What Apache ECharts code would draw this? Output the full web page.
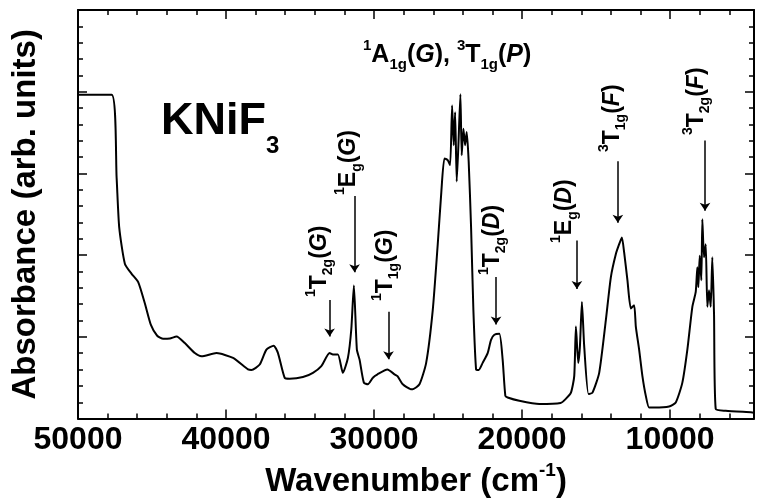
<!DOCTYPE html>
<html>
<head>
<meta charset="utf-8">
<script src="https://cdn.jsdelivr.net/npm/echarts@6.0.0/dist/echarts.min.js"></script>
<style>
  html, body { margin: 0; padding: 0; background: #fff; }
  #chart { width: 757px; height: 503px; }
</style>
</head>
<body>
<div id="chart"></div>
<script>
const wavenumber = [
  50000, 47727, 47390, 47214, 46830, 46378, 45933, 45481, 45076, 44651,
  44246, 43795, 43343, 42783, 42108, 41656, 40645, 39525, 38513, 38284,
  37724, 37272, 36780, 36490, 36038, 35701, 34803, 34129, 33562, 33003,
  32780, 32443, 32105, 31768, 31539, 31363, 31161, 30979, 30689, 30419,
  30082, 29765, 29100, 28618, 28416, 28058, 27519, 27384, 26932, 26480,
  26035, 25698, 25468, 25246, 25023, 24861, 24727, 24618, 24524, 24416,
  24302, 24167, 24079, 23964, 23850, 23742, 23607, 23445, 23290, 23108,
  22932, 22663, 22325, 22096, 21873, 21536, 21313, 21131, 20976, 20187,
  18838, 17401, 17064, 16700, 16477, 16363, 16208, 16093, 15958, 15803,
  15513, 15243, 14791, 14339, 14002, 13665, 13442, 13260, 13105, 12882,
  12653, 12430, 12316, 12093, 11871, 11641, 11419, 11081, 10070, 9618,
  9173, 8835, 8498, 8269, 8161, 8093, 7999, 7891, 7823, 7709,
  7594, 7486, 7372, 7257, 7149, 7034, 6920, 6245, 4451, 4333
];
const absorbance = [
  19.81, 19.81, 14.71, 11.68, 9.46, 8.86, 8.35, 7.04, 5.73, 5.07,
  4.88, 4.90, 5.02, 4.62, 4.01, 3.81, 4.01, 3.71, 3.01, 2.97,
  3.31, 4.22, 4.46, 4.01, 2.50, 2.44, 2.54, 2.80, 3.21, 4.01,
  3.92, 3.92, 2.80, 3.71, 5.45, 8.15, 4.22, 3.61, 2.20, 2.10,
  2.50, 2.71, 3.00, 2.71, 2.60, 2.10, 1.80, 1.80, 2.10, 3.41,
  6.64, 10.67, 13.70, 15.92, 15.82, 15.51, 19.15, 16.73, 18.75, 14.51,
  16.73, 19.85, 16.12, 17.74, 16.73, 17.54, 15.72, 11.68, 6.64, 3.01,
  2.97, 3.41, 4.01, 4.82, 5.13, 5.19, 3.61, 1.39, 1.29, 1.09,
  0.89, 0.95, 1.19, 1.59, 2.60, 5.63, 3.41, 4.42, 7.14, 4.42,
  1.50, 1.59, 2.80, 6.04, 8.66, 10.07, 10.67, 11.08, 10.17, 8.46,
  6.74, 6.94, 5.63, 4.22, 2.60, 1.39, 0.68, 0.68, 0.74, 0.99,
  2.20, 4.22, 6.84, 7.75, 9.26, 8.05, 9.97, 8.46, 12.19, 9.87,
  10.67, 6.84, 7.85, 6.84, 9.87, 6.43, 0.59, 0.48, 0.38, 0.36
];
const xTickLabels = [50000, 40000, 30000, 20000, 10000];

// transition arrows: position, arrow start, arrow tip
const arrowX = [33003, 31316, 29023, 21759, 16295, 13530, 7641];
const arrowFrom = [7.26, 13.62, 6.54, 8.66, 10.90, 15.74, 17.01];
const arrowTo = [5.02, 8.96, 3.63, 5.75, 7.93, 11.99, 12.71];

// rotated level labels ({s|..} superscript, {b|..} subscript, {i|..} italic)
const levelText = [
  '{s|1}{n|T}{b|2g}{n|(}{i|G}{n|)}',
  '{s|1}{n|E}{b|g}{n|(}{i|G}{n|)}',
  '{s|1}{n|T}{b|1g}{n|(}{i|G}{n|)}',
  '{s|1}{n|T}{b|2g}{n|(}{i|D}{n|)}',
  '{s|1}{n|E}{b|g}{n|(}{i|D}{n|)}',
  '{s|3}{n|T}{b|1g}{n|(}{i|F}{n|)}',
  '{s|3}{n|T}{b|2g}{n|(}{i|F}{n|)}'
];
const levelPos = [[320, 297], [349, 195], [386, 301], [493, 275], [565, 243], [613, 152], [697, 135]];

const FONT = '"Liberation Sans", Arial, sans-serif';

function richSet (size, small, lh) {
  const base = { fontFamily: FONT, fontWeight: 'bold', fill: '#000' };
  return {
    n: Object.assign({}, base, { fontSize: size, lineHeight: lh, verticalAlign: 'middle' }),
    i: Object.assign({}, base, { fontSize: size, lineHeight: lh, verticalAlign: 'middle', fontStyle: 'italic' }),
    s: Object.assign({}, base, { fontSize: small, lineHeight: small, verticalAlign: 'top' }),
    b: Object.assign({}, base, { fontSize: small, lineHeight: small, verticalAlign: 'bottom' })
  }
}

const chart = echarts.init(document.getElementById('chart'), null, { renderer: 'canvas' });

const tickStyle = { color: '#000', width: 1.5 };

function xAx (pos, showLabel) {
  return {
    type: 'value',
    position: pos,
    min: 4333,
    max: 50000,
    splitNumber: 5,
    inverse: true,
    axisLine: { show: true, onZero: false, lineStyle: { color: '#000', width: 2 } },
    axisTick: { show: true, inside: true, length: 9, lineStyle: tickStyle },
    minorTick: { show: true, splitNumber: 5, length: 5, lineStyle: tickStyle },
    splitLine: { show: false },
    axisLabel: {
      show: showLabel,
      margin: 6,
      color: '#000',
      fontSize: 32,
      fontWeight: 'bold',
      fontFamily: FONT,
      formatter: (v) => xTickLabels.indexOf(v) >= 0 ? String(v) : ''
    }
  }
}

function yAx (pos) {
  return {
    type: 'value',
    position: pos,
    min: 0,
    max: 25,
    interval: 5,
    axisLine: { show: true, onZero: false, lineStyle: { color: '#000', width: 2 } },
    axisTick: { show: true, inside: true, length: 9, lineStyle: tickStyle },
    minorTick: { show: true, splitNumber: 5, length: 5, lineStyle: tickStyle },
    splitLine: { show: false },
    axisLabel: { show: false }
  }
}

const xBottom = xAx('bottom', true);
xBottom.name = '{n|Wavenumber (cm}{s|-1}{n|)}';
xBottom.nameLocation = 'middle';
xBottom.nameGap = 40;
xBottom.nameTextStyle = { rich: richSet(33, 19, 40) };

const yLeft = yAx('left');
yLeft.name = 'Absorbance (arb. units)';
yLeft.nameLocation = 'middle';
yLeft.nameGap = 36;
yLeft.nameTextStyle = { color: '#000', fontSize: 33, fontWeight: 'bold', fontFamily: FONT };

const levelGraphics = levelText.map((t, i) => ({
  type: 'text',
  x: levelPos[i][0],
  y: levelPos[i][1],
  rotation: Math.PI / 2,
  style: { text: t, rich: richSet(23, 14, 31), align: 'left', verticalAlign: 'middle' }
}));

chart.setOption({
  animation: false,
  backgroundColor: '#fff',
  grid: { left: 78, right: 2, top: 10, bottom: 80, containLabel: false },
  xAxis: [xBottom, xAx('top', false)],
  yAxis: [yLeft, yAx('right')],
  graphic: levelGraphics.concat([
    {
      type: 'text',
      x: 363,
      y: 55,
      style: {
        text: '{s|1}{n|A}{b|1g}{n|(}{i|G}{n|), }{s|3}{n|T}{b|1g}{n|(}{i|P}{n|)}',
        rich: richSet(25, 15, 34),
        align: 'left',
        verticalAlign: 'middle'
      }
    },
    {
      type: 'text',
      x: 161,
      y: 122,
      style: {
        text: '{n|KNiF}{b|3}',
        rich: richSet(45, 24, 72),
        align: 'left',
        verticalAlign: 'middle'
      }
    }
  ]),
  series: [{
    type: 'line',
    xAxisIndex: 0,
    yAxisIndex: 0,
    data: wavenumber.map((w, i) => [w, absorbance[i]]),
    showSymbol: false,
    symbol: 'none',
    smooth: 0.2,
    lineStyle: { color: '#000', width: 2 },
    markLine: {
      silent: true,
      symbol: ['none', 'arrow'],
      symbolSize: 8,
      label: { show: false },
      lineStyle: { color: '#000', width: 1.5, type: 'solid' },
      data: arrowX.map((x, i) => [
        { coord: [x, arrowFrom[i]] },
        { coord: [x, arrowTo[i]] }
      ])
    }
  }]
})
</script>
</body>
</html>
